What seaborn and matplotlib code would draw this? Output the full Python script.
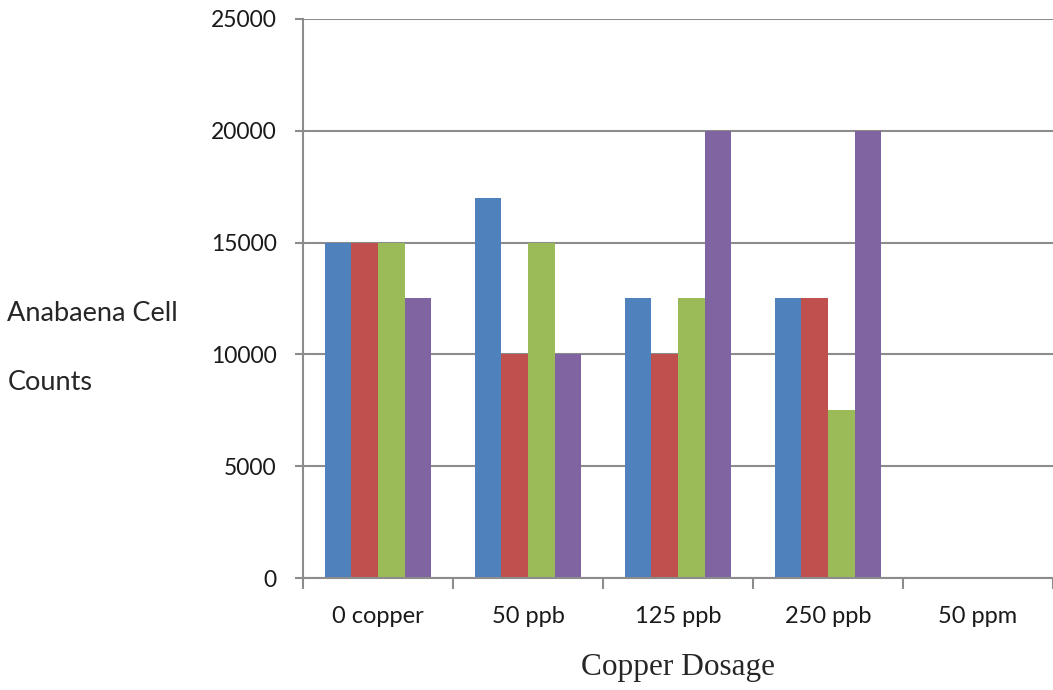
import pandas as pd
import seaborn as sns
import matplotlib.pyplot as plt

# values
dosage = ['0 copper', '50 ppb', '125 ppb', '250 ppb', '50 ppm']
series1 = [15000, 17000, 12500, 12500, 0]
series2 = [15000, 10000, 10000, 12500, 0]
series3 = [15000, 15000, 12500, 7500, 0]
series4 = [12500, 10000, 20000, 20000, 0]
series_names = ['Series1', 'Series2', 'Series3', 'Series4']
colors = ['#4F81BD', '#C0504D', '#9BBB59', '#8064A2']

rows = []
for name, vals in zip(series_names, [series1, series2, series3, series4]):
    for d, v in zip(dosage, vals):
        rows.append({'Dosage': d, 'Series': name, 'Count': v})
df = pd.DataFrame(rows)

sns.set_style('white')
plt.rcParams['font.family'] = ['Lato', 'DejaVu Sans']

fig = plt.figure(figsize=(10.53, 6.9), dpi=100)
ax = fig.add_axes([0.2877, 0.1623, 0.7123, 0.8102])

sns.barplot(data=df, x='Dosage', y='Count', hue='Series', palette=colors,
            order=dosage, hue_order=series_names, width=0.71, gap=0,
            saturation=1, linewidth=0, legend=False, ax=ax)

grid_c = '#8C8C8C'
ax.set_ylim(0, 25000)
ax.set_yticks(range(0, 25001, 5000))
ax.set_xlim(-0.5, 4.434)
ax.yaxis.grid(True, color=grid_c, linewidth=1.5)
ax.set_axisbelow(True)
for s in ['top', 'right']:
    ax.spines[s].set_visible(False)
for s in ['left', 'bottom']:
    ax.spines[s].set_color(grid_c)
    ax.spines[s].set_linewidth(1.5)

# category boundary ticks
ax.set_xticks([i - 0.5 for i in range(6)], minor=True)
ax.tick_params(axis='x', which='minor', bottom=True, length=8, width=1.5,
               color=grid_c, direction='out')
ax.tick_params(axis='x', which='major', bottom=True, length=0, pad=20,
               labelsize=17, labelcolor='#1a1a1a')
ax.tick_params(axis='y', left=True, length=6, width=1.5, color=grid_c,
               direction='out', pad=13, labelsize=16.5, labelcolor='#1a1a1a')

ax.set_xlabel('Copper Dosage', family='Liberation Serif', fontsize=22.5, va='baseline')
ax.xaxis.set_label_coords(0.5, -0.1735)
ax.set_ylabel('Anabaena Cell\nCounts', rotation=0, fontsize=19.5, ha='left',
              va='center', linespacing=3.2)
ax.yaxis.set_label_coords(-0.394, 0.411)

fig.savefig('out.png', dpi=100)
